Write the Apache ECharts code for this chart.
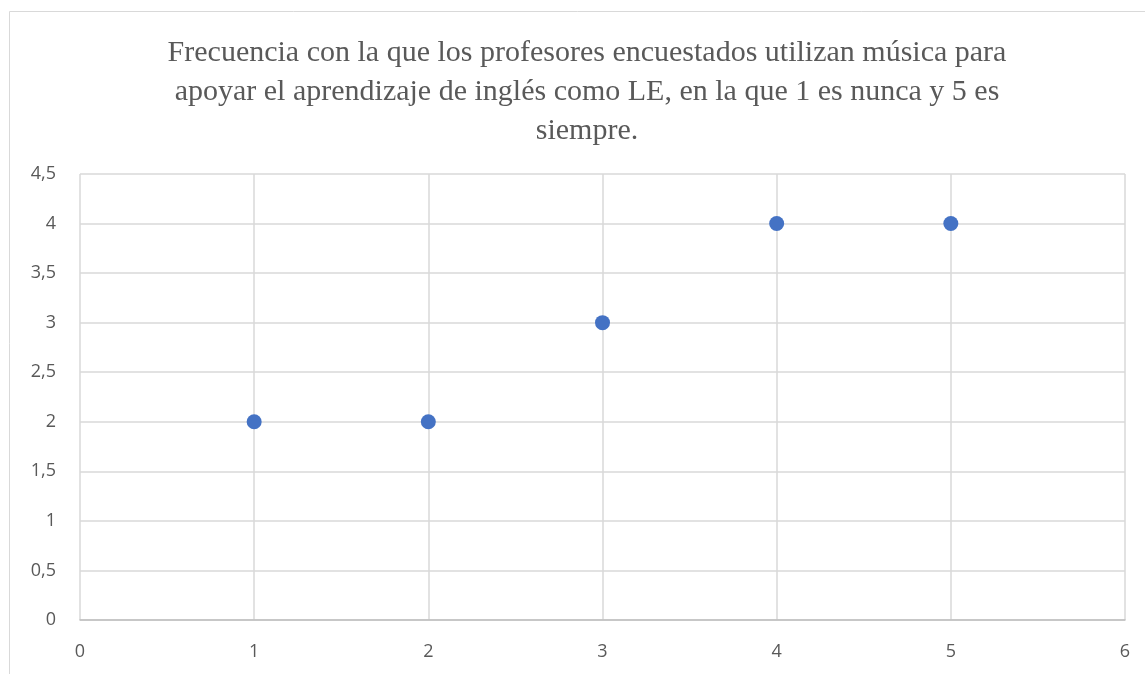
<!DOCTYPE html>
<html>
<head>
<meta charset="utf-8">
<script src="https://cdn.jsdelivr.net/npm/echarts@6/dist/echarts.min.js"></script>
<style>
  html, body { margin: 0; padding: 0; background: #fff; }
  #chart { width: 1145px; height: 674px; }
</style>
</head>
<body>
<div id="chart"></div>
<script>
// valores
var escala = [1, 2, 3, 4, 5];
var profesores = [2, 2, 3, 4, 4];
var titulo = 'Frecuencia con la que los profesores encuestados utilizan música para\napoyar el aprendizaje de inglés como LE, en la que 1 es nunca y 5 es\nsiempre.';

var puntos = escala.map(function (x, i) { return [x, profesores[i]]; });

var chart = echarts.init(document.getElementById('chart'));
chart.setOption({
  animation: false,
  graphic: [{
    type: 'rect',
    shape: { x: 9.5, y: 11.5, width: 1200, height: 800 },
    style: { fill: 'none', stroke: '#d9d9d9', lineWidth: 1 },
    silent: true
  }],
  title: {
    text: titulo,
    left: 582,
    top: 29,
    textAlign: 'center',
    textStyle: {
      fontFamily: 'Liberation Serif',
      fontWeight: 'normal',
      fontSize: 30,
      lineHeight: 39,
      color: '#595959',
      align: 'center'
    }
  },
  grid: { left: 80, right: 20, top: 174, bottom: 54 },
  xAxis: {
    type: 'value',
    min: 0, max: 6, interval: 1,
    axisLine: { show: true, lineStyle: { color: '#bfbfbf', width: 1.5 } },
    axisTick: { show: false },
    axisLabel: { color: '#595959', fontSize: 18, fontFamily: 'Open Sans', margin: 23 },
    splitLine: { show: true, lineStyle: { color: '#d9d9d9', width: 1.5 } }
  },
  yAxis: {
    type: 'value',
    min: 0, max: 4.5, interval: 0.5,
    axisLine: { show: false },
    axisTick: { show: false },
    axisLabel: {
      color: '#595959', fontSize: 18, fontFamily: 'Open Sans', margin: 24,
      formatter: function (v) { return String(v).replace('.', ','); }
    },
    splitLine: { show: true, lineStyle: { color: '#d9d9d9', width: 1.5 } }
  },
  series: [{
    type: 'scatter',
    data: puntos,
    symbolSize: 15,
    itemStyle: { color: '#4472c4', opacity: 1 }
  }]
});
</script>
</body>
</html>
